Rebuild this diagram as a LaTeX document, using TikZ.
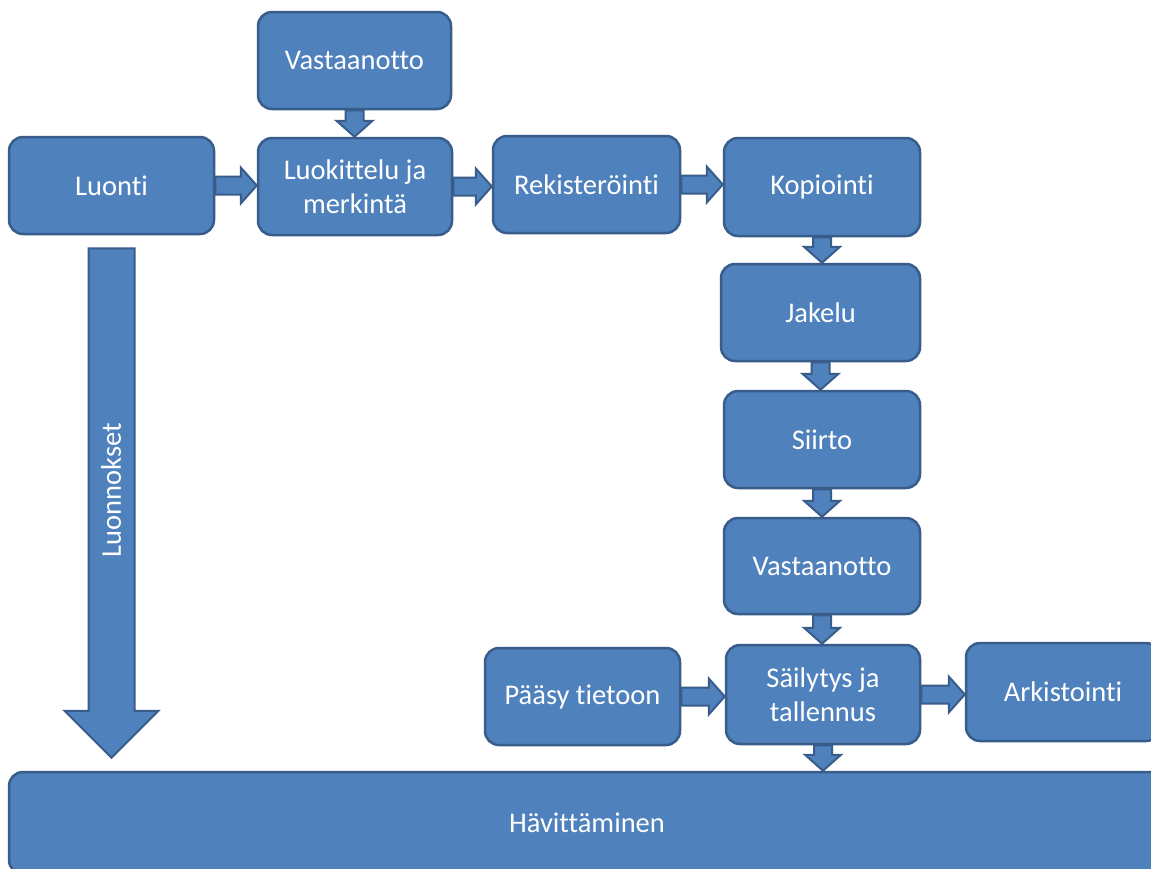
\documentclass[tikz,border=0pt]{standalone}
\usepackage{fontspec}
\setmainfont{Carlito}[Ligatures=NoCommon]
\usetikzlibrary{calc,backgrounds}
\definecolor{boxblue}{HTML}{4F81BD}
\definecolor{edgeblue}{HTML}{385D8A}
\tikzset{
  stepbox/.style={draw=edgeblue, fill=boxblue, line width=2.5pt, rounded corners=14pt,
    text=white, align=center, inner sep=0pt,
    font=\fontsize{28.5}{34}\selectfont},
  blockarrow/.style={draw=edgeblue, fill=boxblue, line width=2pt, line join=miter,
    to path={
      ($(\tikztostart)!\aw!90:(\tikztotarget)$)
      -- ($($(\tikztotarget)!\al!(\tikztostart)$)!\aw!-90:(\tikztostart)$)
      -- ($($(\tikztotarget)!\al!(\tikztostart)$)!\ah!-90:(\tikztostart)$)
      -- (\tikztotarget)
      -- ($($(\tikztotarget)!\al!(\tikztostart)$)!\ah!90:(\tikztostart)$)
      -- ($($(\tikztotarget)!\al!(\tikztostart)$)!\aw!90:(\tikztostart)$)
      -- ($(\tikztostart)!\aw!-90:(\tikztotarget)$) -- cycle}},
  smallarrow/.style={blockarrow, /utils/exec={\def\aw{9pt}\def\ah{18pt}\def\al{16pt}}},
  bigarrow/.style={blockarrow, /utils/exec={\def\aw{23pt}\def\ah{47pt}\def\al{47pt}}}
}
\begin{document}
\begin{tikzpicture}[x=1pt,y=-1pt]
\clip (0,0) rectangle (1151,868);

% process steps
\node[stepbox, minimum width=193pt, minimum height=97pt] (vast1) at (354.5,60.5) {Vastaanotto};
\node[stepbox, minimum width=205pt, minimum height=97pt] (luonti) at (111.5,185.5) {Luonti};
\node[stepbox, minimum width=194pt, minimum height=97pt] (luok) at (355,186.5) {Luokittelu ja\\merkintä};
\node[stepbox, minimum width=187pt, minimum height=97pt] (rek) at (586.5,184.5) {Rekisteröinti};
\node[stepbox, minimum width=196pt, minimum height=98pt] (kop) at (822,187) {Kopiointi};
\node[stepbox, minimum width=199pt, minimum height=97pt] (jak) at (820.5,312.5) {Jakelu};
\node[stepbox, minimum width=196pt, minimum height=97pt] (siirto) at (822,439.5) {Siirto};
\node[stepbox, minimum width=196pt, minimum height=96pt] (vast2) at (822,566) {Vastaanotto};
\node[stepbox, minimum width=194pt, minimum height=99pt] (sail) at (823,694.5) {Säilytys ja\\tallennus};
\node[stepbox, minimum width=195pt, minimum height=97pt] (paasy) at (582.5,696.5) {Pääsy tietoon};
\node[stepbox, minimum width=194pt, minimum height=98pt] (ark) at (1063,692) {Arkistointi};
\node[stepbox, minimum width=1156pt, minimum height=102pt] (hav) at (587,823) {Hävittäminen};

% connectors, kept beneath the step boxes
\begin{pgfonlayer}{background}
\fill[white] (0,0) rectangle (1151,868);
\draw[smallarrow] (vast1.south) to (vast1.south |- luok.north);
\draw[smallarrow] (luonti.east) to (luonti.east -| luok.west);
\draw[smallarrow] (luok.east) to (luok.east -| rek.west);
\draw[smallarrow] (rek.east) to (rek.east -| kop.west);
\draw[smallarrow] (kop.south) to (kop.south |- jak.north);
\draw[smallarrow] (jak.south) to (jak.south |- siirto.north);
\draw[smallarrow] (siirto.south) to (siirto.south |- vast2.north);
\draw[smallarrow] (vast2.south) to (vast2.south |- sail.north);
\draw[smallarrow] (paasy.east) to (paasy.east -| sail.west);
\draw[smallarrow] (sail.east) to (sail.east -| ark.west);
\draw[smallarrow] (sail.south) to (sail.south |- hav.north);
\coordinate (drafttop) at ($(luonti.south)+(0,13)$);
\coordinate (draftend) at ($(luonti.south |- hav.north)+(0,-13)$);
\draw[bigarrow] (drafttop) to (draftend);
\end{pgfonlayer}
\node[text=white, rotate=90, font=\fontsize{28.5}{34}\selectfont] (drafts) at (111,490) {Luonnokset};
\end{tikzpicture}
\end{document}
